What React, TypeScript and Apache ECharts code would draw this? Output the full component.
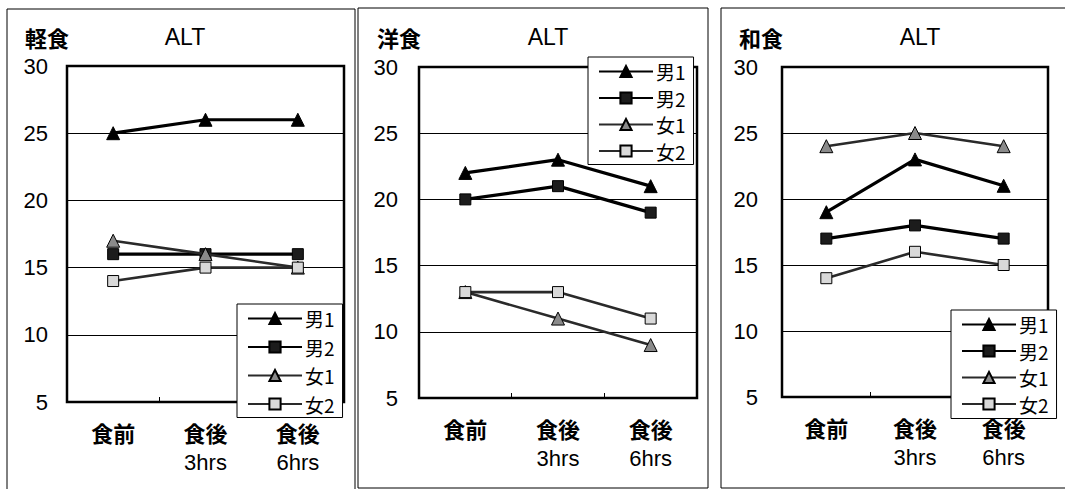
import React, { useEffect, useRef } from 'react';
import * as echarts from 'echarts';

const categories = ['食前', '食後\n3hrs', '食後\n6hrs'];
const seriesNames = ['男1', '男2', '女1', '女2'];
const panelTitles = ['軽食', '洋食', '和食'];
const measureName = 'ALT';
const yMin = 5;
const yMax = 30;
const yInterval = 5;

const lightMale1 = [25, 26, 26];
const lightMale2 = [16, 16, 16];
const lightFemale1 = [17, 16, 15];
const lightFemale2 = [14, 15, 15];

const westernMale1 = [22, 23, 21];
const westernMale2 = [20, 21, 19];
const westernFemale1 = [13, 11, 9];
const westernFemale2 = [13, 13, 11];

const japaneseMale1 = [19, 23, 21];
const japaneseMale2 = [17, 18, 17];
const japaneseFemale1 = [24, 25, 24];
const japaneseFemale2 = [14, 16, 15];

const panelData = [
  [lightMale1, lightMale2, lightFemale1, lightFemale2],
  [westernMale1, westernMale2, westernFemale1, westernFemale2],
  [japaneseMale1, japaneseMale2, japaneseFemale1, japaneseFemale2],
];

const CJK = '"Noto Sans CJK JP", sans-serif';
const LAT = '"Liberation Sans", Arial, sans-serif';

const grids = [
  { left: 67, top: 66, width: 277, height: 336 },
  { left: 419, top: 67, width: 278, height: 331 },
  { left: 782, top: 67, width: 266, height: 330 },
];
const yLabelMargins = [19, 21, 24];
const legendPos = [
  { left: 237, top: 304, gap: 9.5, pad: [5, 8, 4, 10] },
  { left: 588, top: 57, gap: 7.5, pad: [5, 8, 4, 10] },
  { left: 951, top: 310, gap: 7.5, pad: [5, 8, 5, 10] },
];
const panelBoxes = [
  { x: 7, y: 9, w: 348, h: 490 },
  { x: 358, y: 8, w: 350, h: 480 },
  { x: 721, y: 8, w: 350, h: 480 },
];
const titlePos = [
  { x: 25, ax: 185 },
  { x: 377, ax: 548 },
  { x: 739, ax: 920 },
];

const seriesStyles = [
  { symbol: 'triangle', size: [13, 13], line: '#000', lw: 3.2, fill: '#000' },
  { symbol: 'rect', size: [11, 11], line: '#000', lw: 3.2, fill: '#1c1c1c' },
  { symbol: 'triangle', size: [13, 13], line: '#2a2a2a', lw: 2.6, fill: '#8a8a8a' },
  { symbol: 'rect', size: [11, 11], line: '#2a2a2a', lw: 2.6, fill: '#d9d9d9' },
];

export default function App() {
  const ref = useRef<HTMLDivElement>(null);
  useEffect(() => {
    if (!ref.current) return;
    const chart = echarts.init(ref.current, null, { renderer: 'svg' });
    const series: any[] = [];
    panelData.forEach((rows, p) => {
      rows.forEach((vals, s) => {
        const st = seriesStyles[s];
        series.push({
          type: 'line',
          name: seriesNames[s],
          xAxisIndex: p,
          yAxisIndex: p,
          data: vals,
          symbol: st.symbol,
          symbolSize: st.size,
          lineStyle: { color: st.line, width: st.lw },
          itemStyle: { color: st.fill, borderColor: '#000', borderWidth: 1 },
          emphasis: { disabled: true },
          z: 3 + s,
        });
      });
    });
    const graphic: any[] = [];
    panelBoxes.forEach((b) => {
      graphic.push({
        type: 'rect',
        shape: { x: b.x, y: b.y, width: b.w, height: b.h },
        style: { fill: 'none', stroke: '#000', lineWidth: 1 },
        z: -10,
        silent: true,
      });
    });
    titlePos.forEach((t, p) => {
      graphic.push({
        type: 'text',
        x: t.x,
        y: 37,
        style: {
          text: panelTitles[p],
          fontFamily: CJK,
          fontSize: 22,
          fontWeight: 'bold',
          fill: '#000',
          textAlign: 'left',
          textVerticalAlign: 'middle',
        },
      });
      graphic.push({
        type: 'text',
        x: t.ax,
        y: 37,
        style: {
          text: measureName,
          fontFamily: LAT,
          fontSize: 23,
          fill: '#000',
          textAlign: 'center',
          textVerticalAlign: 'middle',
        },
      });
    });
    chart.setOption({
      animation: false,
      backgroundColor: '#fff',
      grid: grids.map((g) => ({
        ...g,
        show: true,
        borderColor: '#000',
        borderWidth: 2.5,
        backgroundColor: '#fff',
        containLabel: false,
      })),
      xAxis: grids.map((_, p) => ({
        type: 'category',
        gridIndex: p,
        data: categories,
        boundaryGap: true,
        axisLine: { show: false },
        axisTick: { show: true, inside: true, length: 5, lineStyle: { color: '#000', width: 1 } },
        splitLine: { show: false },
        axisLabel: {
          margin: 15,
          interval: 0,
          formatter: (v: string) => {
            const parts = v.split('\n');
            return parts.length > 1 ? `{a|${parts[0]}}\n{b|${parts[1]}}` : `{a|${parts[0]}}`;
          },
          rich: {
            a: { fontFamily: CJK, fontSize: 22, fontWeight: 'bold', color: '#000', lineHeight: 30 },
            b: { fontFamily: LAT, fontSize: 22, color: '#000', lineHeight: 30 },
          },
        },
      })),
      yAxis: grids.map((_, p) => ({
        type: 'value',
        gridIndex: p,
        min: yMin,
        max: yMax,
        interval: yInterval,
        axisLine: { show: false },
        axisTick: { show: false },
        splitLine: { show: true, lineStyle: { color: '#000', width: 1 } },
        axisLabel: { margin: yLabelMargins[p], fontFamily: LAT, fontSize: 22, color: '#000' },
      })),
      legend: legendPos.map((l) => ({
        data: seriesNames,
        orient: 'vertical',
        left: l.left,
        top: l.top,
        itemWidth: 54,
        itemHeight: 14,
        itemGap: l.gap,
        padding: l.pad,
        borderColor: '#000',
        borderWidth: 1,
        backgroundColor: '#fff',
        selectedMode: false,
        textStyle: { fontFamily: CJK, fontSize: 19, color: '#000', padding: [0, 0, 0, -2] },
        z: 20,
      })),
      graphic,
      series,
    });
    return () => chart.dispose();
  }, []);
  return (
    <div
      ref={ref}
      style={{ position: 'absolute', left: 0, top: 0, width: 1065, height: 489 }}
    />
  );
}
